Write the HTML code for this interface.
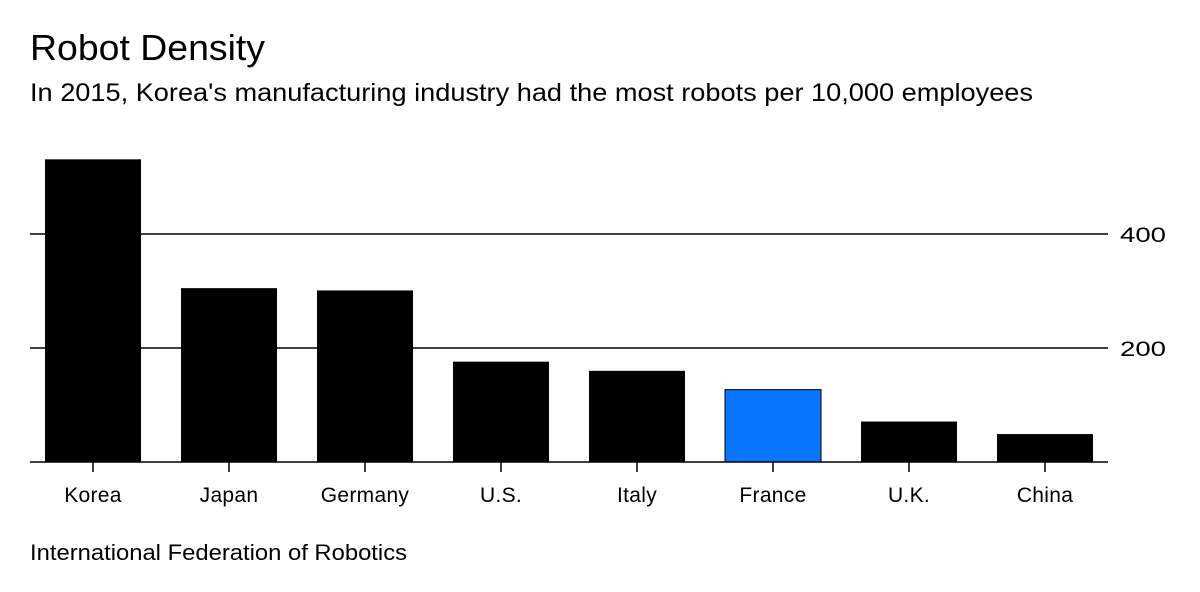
<!DOCTYPE html>
<html><head><meta charset="utf-8"><style>
body{margin:0;background:#fff;font-family:"Liberation Sans",sans-serif;}
</style></head><body>
<svg width="1200" height="587" xmlns="http://www.w3.org/2000/svg" id="chart" font-family="Liberation Sans, sans-serif">
<text x="30" y="60" font-size="36" fill="#000" textLength="235" lengthAdjust="spacingAndGlyphs">Robot Density</text>
<text x="30" y="101" font-size="25" fill="#000" textLength="1003" lengthAdjust="spacingAndGlyphs">In 2015, Korea's manufacturing industry had the most robots per 10,000 employees</text>
<text x="30" y="560" font-size="22" fill="#000" textLength="377" lengthAdjust="spacingAndGlyphs">International Federation of Robotics</text>
<g id="grid"></g><g id="bars"></g><g id="xaxis"></g>
</svg>
<script>
const categories=["Korea","Japan","Germany","U.S.","Italy","France","U.K.","China"];
const values=[531,305,301,176,160,127,71,49];
const highlight=["France"];
const ticks=[200,400];
const ns="http://www.w3.org/2000/svg";
const y0=462,pxPer=114/200,x0=45,pitch=136,bw=96;
const y=v=>y0-v*pxPer;
const xc=i=>x0+i*pitch+bw/2;
function mk(t,a,p){const e=document.createElementNS(ns,t);for(const k in a)e.setAttribute(k,a[k]);p.appendChild(e);return e;}
const grid=document.getElementById('grid'),bars=document.getElementById('bars'),xa=document.getElementById('xaxis');
ticks.forEach(t=>{
 const l=mk('line',{x1:30,x2:1108,y1:y(t),y2:y(t),stroke:'#000','stroke-width':1.5},grid);
 
 
 const tx=mk('text',{x:1120,y:y(t)+8,'font-size':21,textLength:46,lengthAdjust:'spacingAndGlyphs'},grid);tx.textContent=t;
 
 
});
categories.forEach((c,i)=>{
 const r=mk('rect',{x:xc(i)-bw/2,y:y(values[i]),width:bw,height:values[i]*pxPer,fill:highlight.includes(c)?'#0a75ff':'#000',stroke:highlight.includes(c)?'#000':'none','stroke-width':1},bars);
 
 
 const tk=mk('line',{x1:xc(i),x2:xc(i),y1:y0,y2:y0+10,stroke:'#000','stroke-width':1.5},xa);
 
 
 const t=mk('text',{x:xc(i),y:502,'font-size':21,'text-anchor':'middle','letter-spacing':0.3},xa);t.textContent=c;
 
 
});
const ax=mk('line',{x1:30,x2:1108,y1:y0,y2:y0,stroke:'#000','stroke-width':1.5},xa);


</script>
</body></html>
